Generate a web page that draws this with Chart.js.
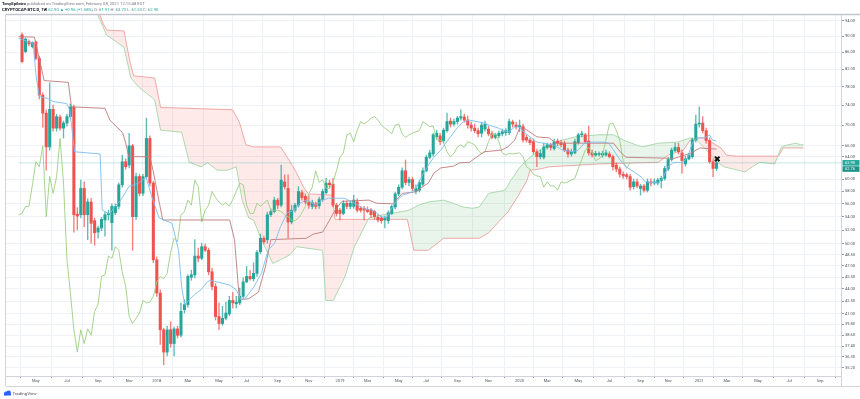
<!DOCTYPE html>
<html lang="en">
<head>
<meta charset="UTF-8">
<title>CRYPTOCAP:BTC.D, 1W</title>
<script src="https://cdn.jsdelivr.net/npm/chart.js"></script>
<style>
  html, body { margin: 0; padding: 0; background: #fff; }
  canvas { display: block; }
</style>
</head>
<body>
<canvas id="chart" width="860" height="399"></canvas>
<script>
// weekly candles, index 0 = week of 3 Apr 2017, last = week of 8 Feb 2021
var opens = [
  90.4,86.2,88.7,87.4,88.6,84.6,76.2,72.4,65.8,73.2,
  69.4,71.6,69.4,70.4,71.7,73.7,54.4,54.3,58.5,54.3,
  56.3,53.4,51.7,52.3,53.5,54.3,53.1,54.6,55.6,59.1,
  63.1,62.5,66.0,54.0,60.5,57.7,60.5,67.4,59.4,47.8,
  43.5,39.2,36.8,39.2,37.7,39.3,38.6,41.5,42.1,45.5,
  45.8,48.3,48.0,49.6,49.1,46.2,44.3,40.7,39.9,40.5,
  41.0,42.6,42.2,42.3,43.1,44.9,45.6,45.3,46.0,48.9,
  50.8,50.6,54.3,54.8,56.6,55.8,59.6,58.5,53.2,55.0,
  55.8,57.8,57.2,56.3,55.6,56.0,55.7,56.7,57.8,59.4,
  59.2,55.8,55.0,54.5,56.1,55.6,55.6,56.3,55.3,55.3,
  55.1,55.0,54.8,53.9,53.8,53.5,53.4,54.5,55.5,57.6,
  58.7,61.5,59.5,60.0,58.0,58.2,59.2,61.5,63.9,64.5,
  67.7,67.9,67.0,68.9,70.8,70.2,70.7,71.4,71.6,71.0,
  70.0,69.4,68.9,68.4,69.2,69.2,68.3,67.6,67.9,68.3,
  68.5,68.5,70.6,70.0,69.7,69.7,67.6,67.1,66.8,64.9,
  64.0,63.9,65.7,66.2,65.5,66.9,66.6,66.5,65.2,64.5,
  64.7,66.6,68.1,68.1,66.9,64.7,64.3,64.4,64.3,64.3,
  64.5,64.0,62.5,61.8,60.9,60.8,60.5,58.8,59.6,58.5,
  58.9,58.2,59.6,59.4,59.4,59.8,60.2,61.8,63.5,65.1,
  65.7,64.7,62.7,63.6,64.0,67.1,70.2,70.4,68.9,67.0,
  63.1,61.91
];
var highs = [
  90.9,89.6,89.1,88.6,88.8,85.1,76.7,73.1,78.9,74.1,
  72.2,72.0,70.8,72.2,74.3,74.1,55.4,59.9,59.6,56.8,
  56.9,53.8,52.6,53.9,54.7,55.0,56.0,56.0,59.4,64.3,
  63.6,68.4,66.3,61.1,60.9,60.9,71.4,67.9,59.7,48.2,
  43.9,39.4,39.6,40.1,39.5,39.6,42.3,42.7,45.8,46.4,
  50.6,49.4,50.1,50.0,49.4,46.7,44.7,42.3,41.9,42.4,
  43.1,43.6,43.1,44.1,45.4,46.9,46.4,47.4,49.1,51.4,
  51.1,54.7,55.2,57.1,56.9,62.5,60.8,60.8,55.8,56.1,
  58.8,58.2,57.6,57.3,56.6,56.3,57.1,58.4,60.2,59.9,
  60.2,56.1,55.3,56.5,56.5,56.5,57.4,56.8,55.6,55.6,
  55.5,55.3,55.0,54.3,54.1,54.1,54.9,55.8,57.9,59.1,
  62.0,63.4,60.4,60.4,59.1,59.9,62.0,64.3,65.2,68.4,
  69.0,68.4,69.4,72.4,71.4,71.2,71.8,73.1,72.2,71.8,
  70.6,70.2,69.4,70.6,70.8,69.8,68.8,68.4,68.8,69.2,
  69.3,71.2,71.0,70.6,71.0,70.2,68.1,67.5,67.3,65.4,
  65.2,66.5,66.5,66.5,67.3,67.3,67.1,66.9,65.6,65.4,
  67.3,68.4,68.8,68.4,69.8,65.2,65.0,64.9,65.0,65.2,
  64.9,64.3,62.9,62.2,61.3,61.1,60.9,60.1,60.1,59.2,
  59.2,60.1,60.1,60.1,60.2,60.6,62.3,63.9,65.6,66.5,
  66.5,65.2,64.1,64.6,67.5,72.0,73.7,71.7,69.4,67.5,
  63.6,63.73
];
var lows = [
  83.5,85.9,87.6,87.1,84.2,75.4,69.6,61.6,65.2,68.8,
  68.8,69.0,67.5,69.8,71.2,51.7,52.0,53.8,52.5,50.6,
  50.1,49.8,50.8,51.9,51.1,53.5,49.1,54.3,55.2,58.7,
  61.8,62.0,49.1,53.6,57.3,57.3,60.1,58.9,47.4,43.1,
  37.6,35.5,36.4,37.3,36.4,38.3,38.4,41.1,41.8,45.1,
  45.4,47.5,47.8,48.9,45.8,43.9,40.3,39.2,39.7,40.3,
  40.8,41.7,41.7,42.1,42.9,44.8,45.1,45.0,45.6,48.6,
  50.0,50.1,54.0,54.6,55.3,55.5,58.4,50.8,52.9,54.7,
  55.5,56.6,56.0,55.3,55.2,55.2,55.3,56.4,57.6,58.7,
  55.5,54.1,53.5,54.3,55.2,55.2,55.3,54.7,54.7,53.5,
  54.6,53.9,53.6,53.2,53.0,52.3,53.0,54.3,55.2,57.3,
  58.4,59.1,58.9,58.1,57.6,57.9,58.9,61.3,63.6,64.1,
  67.3,66.2,66.5,68.6,69.6,69.8,70.2,71.0,70.6,69.4,
  68.8,68.5,67.7,67.7,68.8,67.9,67.3,67.3,67.5,67.9,
  68.0,68.1,69.6,69.2,68.7,66.7,66.7,66.2,64.5,62.2,
  63.6,63.6,65.4,65.2,65.2,66.0,65.8,64.9,63.9,64.1,
  64.5,66.3,67.7,66.5,64.3,63.9,64.1,64.1,63.9,64.1,
  63.8,61.6,61.3,60.4,60.2,60.1,58.2,58.4,58.6,57.4,
  57.9,57.9,58.9,59.1,59.1,58.6,59.9,61.5,63.2,64.9,
  64.5,61.1,62.3,63.4,63.7,66.7,69.6,68.4,66.5,62.8,
  60.5,61.53
];
var closes = [
  83.8,89.3,88.1,88.4,84.6,76.2,72.4,65.8,73.2,69.4,
  71.7,69.4,70.4,71.7,73.7,54.3,54.1,58.5,54.3,56.3,
  53.0,51.6,52.3,53.6,54.3,54.5,55.6,55.6,59.1,63.1,
  62.2,66.0,54.0,60.5,57.7,60.5,67.4,59.4,47.8,43.5,
  39.2,36.8,39.2,37.7,39.3,38.6,41.3,42.1,45.6,45.8,
  48.3,48.0,49.6,49.1,46.2,44.3,40.7,39.9,40.5,41.1,
  42.6,42.3,42.4,43.1,44.9,45.6,45.3,46.0,48.8,50.8,
  50.3,54.3,54.8,56.6,55.8,59.9,58.8,53.2,55.0,55.8,
  58.0,57.0,56.3,55.8,56.2,55.6,56.7,58.0,59.4,59.1,
  55.8,54.5,54.5,56.1,55.6,56.1,56.6,55.0,55.0,55.0,
  54.8,54.3,54.0,53.5,53.4,53.8,54.6,55.6,57.6,58.7,
  61.5,59.5,60.0,58.5,58.5,59.5,61.5,63.9,64.7,68.1,
  68.4,66.8,69.0,70.7,70.2,70.7,71.4,71.7,71.0,70.0,
  69.4,68.9,68.3,70.0,70.2,68.3,67.6,68.1,68.4,68.7,
  68.9,70.7,70.2,69.7,69.8,67.1,67.1,66.6,64.9,64.0,
  64.6,65.8,66.2,65.7,66.8,66.5,66.2,65.2,64.5,64.9,
  66.8,68.1,68.3,66.8,64.7,64.3,64.6,64.5,64.6,64.7,
  64.0,62.2,61.8,60.9,60.6,60.5,58.7,59.6,58.9,58.9,
  58.2,59.6,59.4,59.6,59.9,60.2,61.9,63.5,65.2,65.7,
  64.9,63.3,63.6,64.3,67.1,70.2,70.4,68.9,67.0,63.1,
  61.91,62.90
];

// Ichimoku lines: [week, value]
var conversionLine = [
  [-1,89.5],[3.2,88.2],[4.1,80.3],[5.0,75.9],[7.3,75.5],[9.2,74.8],[12.9,74.4],[13.8,73.1],
  [15.2,64.9],[22.6,64.5],[23.2,55.0],[25.4,54.4],[26.8,55.6],[28.6,56.6],[30.9,58.8],[33.7,59.4],
  [35.9,60.4],[37.4,57.4],[39.7,53.8],[43.4,53.0],[45.3,49.1],[46.2,44.2],[47.1,42.1],[48.5,42.7],
  [49.9,43.3],[51.8,43.9],[53.6,44.9],[54.5,45.1],[56.4,44.9],[60.1,44.5],[62.0,43.9],[63.3,42.7],
  [64.7,42.9],[67.0,44.2],[69.3,46.0],[71.2,49.1],[73.1,50.1],[74.8,52.5],[76.8,54.6],[78.7,55.0],
  [80.4,56.1],[82.3,56.6],[85.1,55.8],[87.0,56.6],[88.7,56.9],[93.4,56.9],[96.2,56.1],[99.0,55.2],
  [101.7,55.0],[103.7,54.1],[105.4,53.8],[106.7,55.0],[108.1,56.3],[110.1,57.4],[112.9,57.9],[114.2,58.7],
  [115.6,60.4],[117.6,62.5],[119.2,63.9],[121.2,65.2],[122.6,66.5],[124.0,67.7],[125.9,69.4],[127.6,70.6],
  [129.5,71.0],[133.7,70.4],[135.1,70.0],[137.9,69.4],[140.6,68.6],[142.6,69.6],[144.0,69.6],[145.3,68.6],
  [147.0,67.7],[149.0,66.7],[150.9,66.5],[153.7,66.2],[156.5,65.2],[159.2,64.9],[160.9,65.2],[162.8,66.5],
  [164.8,66.7],[168.4,66.7],[169.8,66.5],[171.2,65.2],[173.1,63.4],[174.8,62.2],[177.6,61.1],[179.5,60.3],
  [180.3,59.6],[184.2,59.4],[185.6,60.4],[187.0,62.2],[188.4,62.9],[189.8,63.0],[191.2,62.9],[192.6,63.9],
  [194.0,66.5],[195.3,67.5],[197.6,67.5],[199.0,68.1],[199.8,67.1],[201,66.9]
];
var baseLine = [
  [-1,89.9],[3.6,89.8],[6.4,79.4],[13.4,79.0],[14.3,73.7],[24.0,73.4],[25.4,71.0],[29.1,68.5],
  [30.0,66.5],[30.9,64.0],[37.0,64.0],[37.9,61.6],[40.7,53.5],[60.1,53.5],[61.5,50.6],[62.9,42.7],
  [65.6,42.8],[68.4,43.6],[70.4,46.8],[72.0,50.6],[82.3,50.8],[84.3,51.4],[87.0,51.7],[88.7,53.2],
  [90.6,55.0],[92.6,56.4],[100.4,56.6],[102.6,56.1],[107.3,56.0],[110.1,57.7],[113.7,57.9],[117.6,59.4],
  [119.2,61.1],[121.2,62.0],[124.8,62.3],[126.7,62.9],[129.5,63.0],[131.5,63.9],[133.7,64.9],[138.7,65.2],
  [140.6,65.8],[142.6,67.1],[144.0,69.4],[145.3,69.4],[149.0,67.7],[152.6,67.5],[154.5,66.5],[171.2,66.5],
  [172.0,65.8],[173.1,64.9],[174.8,63.9],[188.7,63.7],[193.4,64.6],[196.2,65.6],[201,65.4]
];
var leadingSpanA = [
  [21.2,98.4],[21.8,95.9],[24.5,90.3],[29.5,87.3],[31.5,80.0],[33.7,78.0],[38.4,75.2],[40.1,69.0],
  [46.2,68.6],[48.4,63.0],[51.8,62.2],[53.7,62.9],[56.5,61.6],[59.5,61.6],[62.0,62.2],[63.7,56.6],
  [65.6,53.8],[67.0,53.5],[69.3,50.6],[72.6,47.3],[74.8,47.8],[77.6,48.5],[79.5,49.6],[87.0,49.1],
  [87.9,42.6],[90.1,42.6],[93.4,45.5],[96.2,49.6],[97.6,51.0],[100.4,53.8],[101.7,54.0],[104.5,54.3],
  [108.1,54.6],[112.0,55.0],[114.8,55.8],[117.6,56.3],[122.0,56.6],[124.8,56.1],[127.6,55.5],[130.4,55.3],
  [132.3,55.5],[135.1,57.7],[139.8,58.2],[141.5,59.9],[144.2,62.2],[147.0,63.9],[150.9,65.7],[156.5,67.1],
  [160.1,67.7],[167.0,68.1],[171.2,68.1],[174.0,67.1],[177.6,66.2],[179.5,65.8],[184.2,66.5],[189.8,66.7],
  [193.4,67.5],[195.3,67.1],[198.1,65.2],[201.2,63.0],[203.1,62.2],[205.9,61.8],[209.2,61.3],[211.4,62.2],
  [213.4,63.0],[215.1,62.9],[217.8,62.7],[219.8,65.8],[221.7,66.2],[224.0,66.5],[225.3,66.2],[226.2,66.2]
];
var leadingSpanB = [
  [21.2,99.0],[23.4,93.5],[24.5,91.6],[29.5,91.4],[31.2,83.9],[32.3,80.5],[38.4,80.0],[40.1,73.6],
  [60.9,73.1],[62.9,70.6],[64.8,66.2],[67.0,65.8],[74.8,65.8],[77.3,63.4],[79.5,61.1],[81.5,58.7],
  [82.9,57.6],[89.8,57.4],[90.6,53.6],[111.5,53.6],[113.4,49.1],[117.6,49.1],[122.0,50.8],[132.3,50.8],
  [135.1,51.6],[137.9,53.2],[140.6,54.7],[143.4,57.1],[146.2,59.9],[147.0,61.6],[149.8,61.8],[152.6,62.2],
  [167.0,62.7],[184.2,63.0],[187.0,64.3],[191.4,65.2],[193.4,67.1],[196.2,67.5],[197.6,67.5],[199.5,66.7],
  [202.3,65.6],[203.9,64.3],[206.7,64.1],[218.9,64.1],[220.3,65.6],[226.2,65.6]
];
var laggingShift = 25;

// axis labels
var xTickWeeks = [4,13,22,31,39,48,57,65,74,83,92,100,109,117,126,135,144,152,161,170,179,187,196,204,213,222,231];
var xTickLabels = ['May','Jul','Sep','Nov','2018','Mar','May','Jul','Sep','Nov','2019','Mar','May','Jul','Sep','Nov','2020','Mar','May','Jul','Sep','Nov','2021','Mar','May','Jul','Sep'];
var yTicks = [94,90,86,82,78,74,70,66,64,60,58,56,54,52,50,48.5,47,45.5,44,42.5,41,39.8,38.6,37.4,36.3,35.2];
var priceTags = [62.90, 62.76];
var markerPoint = [201.2, 63.6];

var UP = '#26a69a', DOWN = '#ef5350';
var FONT = 'Roboto, "Liberation Sans", sans-serif';

function toPoints(arr) {
  return arr.map(function (p) { return { x: p[0], y: p[1] }; });
}
function candleColor(ctx) {
  var i = ctx.dataIndex;
  return closes[i] >= opens[i] ? UP : DOWN;
}
function wickColor(ctx) {
  var i = ctx.dataIndex;
  return closes[i] >= opens[i] ? 'rgba(38,166,154,0.75)' : 'rgba(239,83,80,0.75)';
}

var bodies = opens.map(function (o, i) { return { x: i, y: [o, closes[i]] }; });
var wicks = lows.map(function (l, i) { return { x: i, y: [l, highs[i]] }; });
var lagging = closes.map(function (c, i) { return { x: i - laggingShift, y: c }; })
  .filter(function (p) { return p.x >= -1; });
var lastLine = [{ x: -1, y: closes[closes.length - 1] }, { x: 240, y: closes[closes.length - 1] }];

var lineBase = { type: 'line', pointRadius: 0, tension: 0, borderWidth: 0.9, fill: false };

var extras = {
  id: 'extras',
  afterDraw: function (chart) {
    var c = chart.ctx, a = chart.chartArea, y = chart.scales.y;
    c.save();
    // frame
    c.strokeStyle = '#d1d4dc';
    c.lineWidth = 1;
    c.beginPath();
    c.moveTo(a.left - 0.5, a.top); c.lineTo(a.left - 0.5, a.bottom + 10);
    c.moveTo(a.left, a.bottom + 10.5); c.lineTo(860, a.bottom + 10.5);
    c.moveTo(a.right + 0.5, a.top); c.lineTo(a.right + 0.5, a.bottom + 10);
    c.stroke();
    c.strokeStyle = '#c3c6ce';
    c.lineWidth = 1.5;
    c.beginPath();
    c.moveTo(a.left - 0.5, a.top - 0.5); c.lineTo(860, a.top - 0.5);
    c.stroke();

    // price tags on the right axis
    var py = y.getPixelForValue(priceTags[0]);
    var tagColors = ['#26a69a', '#1e9488'];
    priceTags.forEach(function (v, k) {
      var top = py - 2.8 + k * 6.2;
      c.fillStyle = tagColors[k];
      c.fillRect(a.right + 1.5, top, 17, 5.6);
      c.fillStyle = '#ffffff';
      c.font = '4px ' + FONT;
      c.textBaseline = 'middle';
      c.textAlign = 'left';
      c.fillText(v.toFixed(2), a.right + 4, top + 2.9);
    });

    // header
    c.textBaseline = 'middle';
    c.textAlign = 'left';
    var x = 2;
    c.font = 'bold 4.2px ' + FONT;
    c.fillStyle = '#131722';
    c.fillText('TonySpilotro', x, 4);
    x += c.measureText('TonySpilotro').width;
    c.font = '4.2px ' + FONT;
    c.fillStyle = '#787b86';
    c.fillText(' published on TradingView.com, February 08, 2021 12:15:48 EST', x, 4);

    var parts = [
      ['CRYPTOCAP:BTC.D, 1W ', '#131722', true],
      ['62.90 \u25B2 +0.96 (+1.58%) ', UP, false],
      ['O: ', '#787b86', false], ['61.91 ', UP, false],
      ['H: ', '#787b86', false], ['63.73 ', UP, false],
      ['L: ', '#787b86', false], ['61.53 ', UP, false],
      ['C: ', '#787b86', false], ['62.90', UP, false]
    ];
    x = 2;
    parts.forEach(function (p) {
      c.font = (p[2] ? 'bold ' : '') + '4.2px ' + FONT;
      c.fillStyle = p[1];
      c.fillText(p[0], x, 10);
      x += c.measureText(p[0]).width;
    });

    // logo
    c.fillStyle = '#2962ff';
    c.beginPath();
    c.arc(6, 393.5, 2, 0, Math.PI * 2);
    c.arc(8.6, 392.8, 2.3, 0, Math.PI * 2);
    c.fill();
    c.fillRect(4, 393.5, 7, 2);
    c.fillStyle = '#50535e';
    c.font = '4.4px ' + FONT;
    c.fillText('TradingView', 12.5, 393.8);
    c.restore();
  }
};

new Chart(document.getElementById('chart'), {
  type: 'line',
  data: {
    datasets: [
      Object.assign({}, lineBase, {
        data: toPoints(leadingSpanA), borderColor: '#a5d6a7', order: 10,
        fill: { target: 1, above: 'rgba(76,175,80,0.12)', below: 'rgba(244,67,54,0.11)' }
      }),
      Object.assign({}, lineBase, { data: toPoints(leadingSpanB), borderColor: '#f2a3a3', order: 11 }),
      Object.assign({}, lineBase, { data: lagging, borderColor: '#9ccf82', order: 3 }),
      Object.assign({}, lineBase, { data: toPoints(baseLine), borderColor: '#c07a7a', order: 2 }),
      Object.assign({}, lineBase, { data: toPoints(conversionLine), borderColor: '#7cbdf2', order: 1 }),
      {
        type: 'bar', data: wicks, backgroundColor: wickColor, borderWidth: 0,
        barThickness: 0.7, grouped: false, order: 5
      },
      {
        type: 'bar', data: bodies, backgroundColor: candleColor, borderWidth: 0,
        barThickness: 2.4, minBarLength: 1, grouped: false, order: 4
      },
      Object.assign({}, lineBase, { data: lastLine, borderColor: 'rgba(38,166,154,0.3)', order: 6 }),
      {
        type: 'scatter', data: [{ x: markerPoint[0], y: markerPoint[1] }],
        pointStyle: 'crossRot', pointRadius: 3.2, borderWidth: 2, borderColor: '#111',
        backgroundColor: '#111', order: 0
      }
    ]
  },
  options: {
    responsive: false,
    devicePixelRatio: 1,
    animation: false,
    events: [],
    layout: { padding: { top: 15, left: 3, right: 0, bottom: 13 } },
    plugins: { legend: { display: false }, tooltip: { enabled: false } },
    scales: {
      x: {
        type: 'linear', min: -0.17, max: 232.55,
        afterBuildTicks: function (s) { s.ticks = xTickWeeks.map(function (v) { return { value: v }; }); },
        afterFit: function (s) { s.height = 10; },
        ticks: {
          autoSkip: false, maxRotation: 0, padding: 1, color: '#4c525e',
          font: { size: 4, family: FONT },
          callback: function (v) { var i = xTickWeeks.indexOf(v); return i < 0 ? '' : xTickLabels[i]; }
        },
        grid: { color: '#eef1f6', tickLength: 2, tickColor: '#9598a1' },
        border: { color: '#d1d4dc' }
      },
      y: {
        type: 'logarithmic', position: 'right', min: 34.39, max: 95.61,
        afterBuildTicks: function (s) { s.ticks = yTicks.map(function (v) { return { value: v }; }); },
        afterFit: function (s) { s.width = 19; },
        ticks: {
          autoSkip: false, padding: 1, color: '#4c525e',
          font: { size: 4, family: FONT },
          callback: function (v) { return Number(v).toFixed(2); }
        },
        grid: { color: '#eef1f6', tickLength: 3, tickColor: '#9598a1' },
        border: { color: '#d1d4dc' }
      }
    }
  },
  plugins: [extras]
});
</script>
</body>
</html>
